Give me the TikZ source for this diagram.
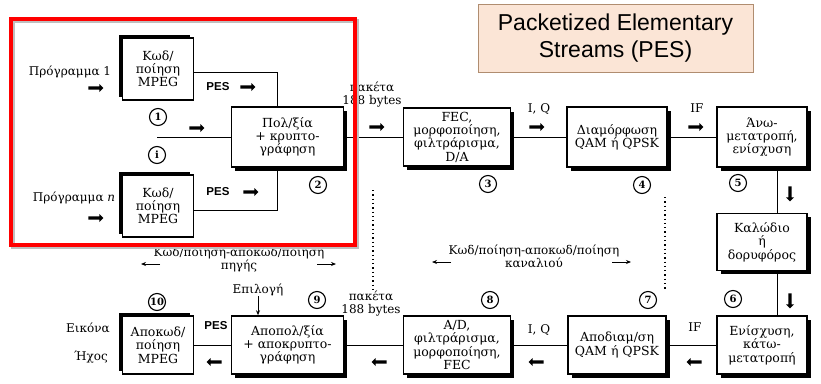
\documentclass[tikz,border=0pt]{standalone}
\usepackage{fontspec}
\setmainfont{DejaVu Serif}
\newfontfamily\pessans{Liberation Sans}
\usetikzlibrary{shapes.arrows,shadows,arrows.meta}
\definecolor{notefill}{HTML}{FBE5D6}
\definecolor{notedraw}{HTML}{B08D70}
\begin{document}
\begin{tikzpicture}[x=1pt,y=-1pt,
  blk/.style={draw, line width=1.5pt, fill=white, align=center, inner sep=1pt,
    font=\fontsize{12.5}{13.3}\selectfont},
  shR/.style={drop shadow={shadow xshift=3.5pt, shadow yshift=-3.5pt, fill=black, opacity=1}},
  shL/.style={drop shadow={shadow xshift=-3.5pt, shadow yshift=3.5pt, fill=black, opacity=1}},
  circ/.style={circle, draw, line width=1.1pt, minimum size=17pt, inner sep=0pt,
    font=\bfseries\fontsize{10}{10}\selectfont},
  fat/.style={single arrow, fill=black, draw=none, inner sep=1.5pt, minimum height=15pt,
    single arrow head extend=2.3pt, single arrow tip angle=90},
  fatL/.style={fat, shape border rotate=180},
  fatD/.style={fat, shape border rotate=270},
  lbl/.style={inner sep=0pt, align=center, font=\fontsize{12}{13}\selectfont},
  pesl/.style={inner sep=0pt, font=\pessans\bfseries\fontsize{11.5}{12}\selectfont},
  wire/.style={line width=0.9pt},
  thin/.style={line width=0.8pt, -{Stealth[length=5pt,width=4pt]}},
  dots/.style={line width=1.3pt, dash pattern=on 1.3pt off 3pt}
]
\useasboundingbox (0,0) rectangle (821,383);

% PES note
\node[draw=notedraw, fill=notefill, line width=0.8pt, minimum width=275pt, minimum height=68pt,
  align=center, font=\pessans\fontsize{23}{27}\selectfont] (note) at (615.5,38) {Packetized Elementary\\Streams (PES)};

% blocks
\node[blk, shL, minimum width=71pt, minimum height=62pt] (b1) at (158,69) {Κωδ/\\ποίηση\\MPEG};
\node[blk, shL, minimum width=71pt, minimum height=62pt] (bn) at (158,206) {Κωδ/\\ποίηση\\MPEG};
\node[blk, shR, minimum width=112pt, minimum height=60pt] (b2) at (287.5,137) {Πολ/ξία\\+ κρυπτο-\\γράφηση};
\node[blk, shR, minimum width=107pt, minimum height=58pt] (b3) at (457,137) {FEC,\\μορφοποίηση,\\φιλτράρισμα,\\D/A};
\node[blk, shR, minimum width=100pt, minimum height=60pt] (b4) at (617,137) {Διαμόρφωση\\QAM ή QPSK};
\node[blk, shR, minimum width=90pt, minimum height=60pt] (b5) at (762,137) {Άνω-\\μετατροπή,\\ενίσχυση};
\node[blk, shR, minimum width=90pt, minimum height=57pt] (cab) at (762,242) {Καλώδιο\\ή\\δορυφόρος};
\node[blk, shR, minimum width=90pt, minimum height=58pt] (b6) at (762,345) {Ενίσχυση,\\κάτω-\\μετατροπή};
\node[blk, shR, minimum width=98pt, minimum height=58pt] (b7) at (617,345) {Αποδιαμ/ση\\QAM ή QPSK};
\node[blk, shR, minimum width=107pt, minimum height=58pt] (b8) at (457,345) {A/D,\\φιλτράρισμα,\\μορφοποίηση,\\FEC};
\node[blk, shR, minimum width=112pt, minimum height=58pt] (b9) at (287.5,345) {Αποπολ/ξία\\+ αποκρυπτο-\\γράφηση};
\node[blk, shL, minimum width=71pt, minimum height=58pt] (b10) at (158,345) {Αποκωδ/\\ποίηση\\MPEG};

% circled numbers
\node[circ] (c1) at (158,117) {1};
\node[circ] (ci) at (157,155) {i};
\node[circ] (c2) at (318,185) {2};
\node[circ] (c3) at (488,184) {3};
\node[circ] (c4) at (642,185) {4};
\node[circ] (c5) at (738,183) {5};
\node[circ] (c6) at (733,299) {6};
\node[circ] (c7) at (648,300) {7};
\node[circ] (c8) at (490,300) {8};
\node[circ] (c9) at (317,300) {9};
\node[circ] (c10) at (157,302) {10};

% connectors
\coordinate (cin) at (157,137);
\draw[wire] ([yshift=-3pt]b1.east) -| ([xshift=-10pt]b2.north);
\draw[wire] ([yshift=-4pt]bn.east) -| ([xshift=-10pt]b2.south);
\draw[wire] (cin) -- (cin -| b2.west);
\draw[wire] (b2.east) -- (b3.west);
\draw[wire] (b3.east) -- (b4.west);
\draw[wire] (b4.east) -- (b5.west);
\draw[wire] ([xshift=15pt]b5.south) -- ([xshift=15pt]cab.north);
\draw[wire] ([xshift=15pt]cab.south) -- ([xshift=15pt]b6.north);
\draw[wire] (b6.west) -- (b7.east);
\draw[wire] (b7.west) -- (b8.east);
\draw[wire] (b8.west) -- (b9.east);
\draw[wire] (b9.west) -- (b10.east);

% fat arrows
\node[fat] (a1) at (95,88) {};
\node[fat] (an) at (95,218) {};
\node[fat] (ap1) at (247,87) {};
\node[fat] (apn) at (250,192) {};
\node[fat] (ai) at (196,128) {};
\node[fat] (a23) at (376,127) {};
\node[fat] (a34) at (536,127) {};
\node[fat] (a45) at (695,127) {};
\node[fatD] (a5c) at (790,193) {};
\node[fatD] (ac6) at (790,300) {};
\node[fatL] (a67) at (695,362) {};
\node[fatL] (a78) at (537,362) {};
\node[fatL] (a89) at (380,362) {};
\node[fatL] (a910) at (215,362) {};

% labels
\node[lbl] (p1) at (70,72) {Πρόγραμμα 1};
\node[lbl] (pn) at (74,198) {Πρόγραμμα \textit{n}};
\node[pesl] (pes1) at (218,87) {PES};
\node[pesl] (pesn) at (218,192) {PES};
\node[pesl] (pes10) at (216,326) {PES};
\node[lbl] (pk1) at (372,95) {πακέτα\\188 bytes};
\node[lbl] (pk2) at (371,304) {πακέτα\\188 bytes};
\node[lbl] (iq1) at (539,109) {I, Q};
\node[lbl] (iq2) at (539,330) {I, Q};
\node[lbl] (if1) at (697,108) {IF};
\node[lbl] (if2) at (695,327) {IF};
\node[lbl] (sel) at (258,290) {Επιλογή};
\node[lbl] (img) at (88,328) {Εικόνα};
\node[lbl] (snd) at (91,357) {Ήχος};
\node[lbl] (src) at (239,259) {Κωδ/ποίηση-αποκωδ/ποίηση\\πηγής};
\node[lbl] (chn) at (534,256) {Κωδ/ποίηση-αποκωδ/ποίηση\\καναλιού};

\draw[thin] (sel.south) -- (sel.south |- b9.north);
\coordinate (sl1) at (160,264); \coordinate (sl2) at (141,264);
\coordinate (sr1) at (317,264); \coordinate (sr2) at (336,264);
\coordinate (cl1) at (451,262); \coordinate (cl2) at (432,262);
\coordinate (cr1) at (612,262); \coordinate (cr2) at (631,262);
\draw[thin] (sl1) -- (sl2);
\draw[thin] (sr1) -- (sr2);
\draw[thin] (cl1) -- (cl2);
\draw[thin] (cr1) -- (cr2);

% dotted separators
\coordinate (d1a) at (373,190); \coordinate (d1b) at (373,292);
\coordinate (d2a) at (665,197); \coordinate (d2b) at (665,290);
\draw[dots] (d1a) -- (d1b);
\draw[dots] (d2a) -- (d2b);

% red highlight frame
\draw[black!25, line width=3.5pt] (13,21) rectangle (357,247);
\draw[red, line width=3.5pt] (11,19) rectangle (355,245);
\end{tikzpicture}
\end{document}
